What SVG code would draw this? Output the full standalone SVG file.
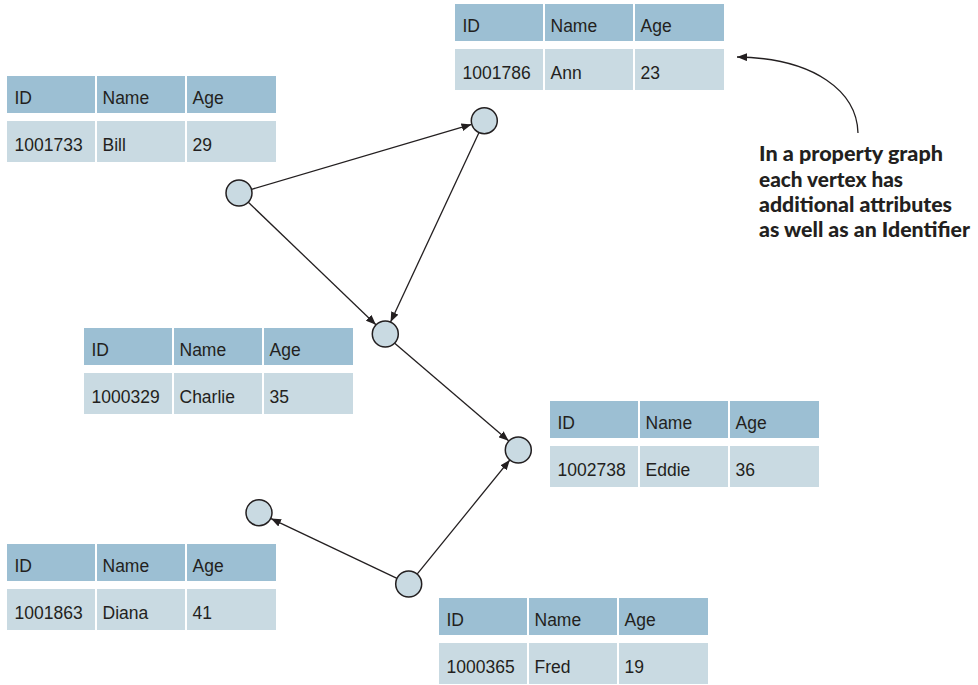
<svg xmlns="http://www.w3.org/2000/svg" width="978" height="685" viewBox="0 0 978 685">
  <defs>
    <style>
      .hd { fill: #9cbfd3; }
      .dt { fill: #c9dae2; }
      .tx { font-family: "Liberation Sans", Arial, sans-serif; font-size: 17.5px; fill: #231f20; }
      .vx { fill: #c9dae2; stroke: #231f20; stroke-width: 1.5; }
      .edge { fill: none; stroke: #231f20; stroke-width: 1.3; marker-end: url(#arrow); }
      .note { font-family: Lato, "Open Sans", sans-serif; font-weight: 900; font-size: 21px; fill: #231f20; }
    </style>
    <marker id="arrow" viewBox="0 0 10 8" refX="10" refY="4" markerWidth="10" markerHeight="8" markerUnits="userSpaceOnUse" orient="auto">
      <path d="M0,0 L10,4 L0,8 Z" fill="#231f20"/>
    </marker>
    <!-- one vertex property table: header row + value row -->
    <g id="table">
      <rect class="hd" x="0" y="0" width="88" height="37"/>
      <rect class="hd" x="90" y="0" width="88" height="37"/>
      <rect class="hd" x="180" y="0" width="89" height="37"/>
      <rect class="dt" x="0" y="45" width="88" height="41"/>
      <rect class="dt" x="90" y="45" width="88" height="41"/>
      <rect class="dt" x="180" y="45" width="89" height="41"/>
      <text class="tx" x="7.5" y="28">ID</text>
      <text class="tx" x="95.5" y="28">Name</text>
      <text class="tx" x="185.5" y="28">Age</text>
    </g>
  </defs>

  <rect width="978" height="685" fill="#ffffff"/>

  <!-- connectors -->
  <g id="edges">
    <line class="edge" x1="251.5" y1="189.3" x2="471.5" y2="124.4"/>
    <line class="edge" x1="248.3" y1="202.3" x2="375.9" y2="324.7"/>
    <line class="edge" x1="478.9" y1="132.7" x2="390.6" y2="322"/>
    <line class="edge" x1="394.7" y1="343.2" x2="508.6" y2="440.8"/>
    <line class="edge" x1="417.3" y1="573.9" x2="509.8" y2="460"/>
    <line class="edge" x1="397" y1="578.3" x2="271" y2="518.6"/>
  </g>

  <g id="bill">
    <use href="#table" x="7" y="76"/>
    <text class="tx" x="14.5" y="151">1001733</text>
    <text class="tx" x="102.5" y="151">Bill</text>
    <text class="tx" x="192.5" y="151">29</text>
    <circle class="vx" cx="239" cy="193" r="13"/>
  </g>

  <g id="ann">
    <use href="#table" x="455" y="4"/>
    <text class="tx" x="462.5" y="79">1001786</text>
    <text class="tx" x="550.5" y="79">Ann</text>
    <text class="tx" x="640.5" y="79">23</text>
    <circle class="vx" cx="484.3" cy="120.7" r="13"/>
  </g>

  <g id="charlie">
    <use href="#table" x="84" y="328"/>
    <text class="tx" x="91.5" y="403">1000329</text>
    <text class="tx" x="179.5" y="403">Charlie</text>
    <text class="tx" x="269.5" y="403">35</text>
    <circle class="vx" cx="385.3" cy="334" r="13"/>
  </g>

  <g id="eddie">
    <use href="#table" x="550" y="401"/>
    <text class="tx" x="557.5" y="476">1002738</text>
    <text class="tx" x="645.5" y="476">Eddie</text>
    <text class="tx" x="735.5" y="476">36</text>
    <circle class="vx" cx="518.3" cy="450" r="13"/>
  </g>

  <g id="diana">
    <use href="#table" x="7" y="544"/>
    <text class="tx" x="14.5" y="619">1001863</text>
    <text class="tx" x="102.5" y="619">Diana</text>
    <text class="tx" x="192.5" y="619">41</text>
    <circle class="vx" cx="259" cy="512.7" r="13"/>
  </g>

  <g id="fred">
    <use href="#table" x="439" y="598"/>
    <text class="tx" x="446.5" y="673">1000365</text>
    <text class="tx" x="534.5" y="673">Fred</text>
    <text class="tx" x="624.5" y="673">19</text>
    <circle class="vx" cx="408.7" cy="584" r="13"/>
  </g>

  <!-- callout -->
  <g id="callout">
    <path class="edge" d="M858,133 C857,92 815,58 737,57"/>
    <text class="note" x="759" y="161" textLength="184" lengthAdjust="spacingAndGlyphs">In a property graph</text>
    <text class="note" x="759" y="186.5" textLength="144" lengthAdjust="spacingAndGlyphs">each vertex has</text>
    <text class="note" x="759" y="212" textLength="193" lengthAdjust="spacingAndGlyphs">additional attributes</text>
    <text class="note" x="759" y="237" textLength="211" lengthAdjust="spacingAndGlyphs">as well as an Identifier</text>
  </g>
</svg>
